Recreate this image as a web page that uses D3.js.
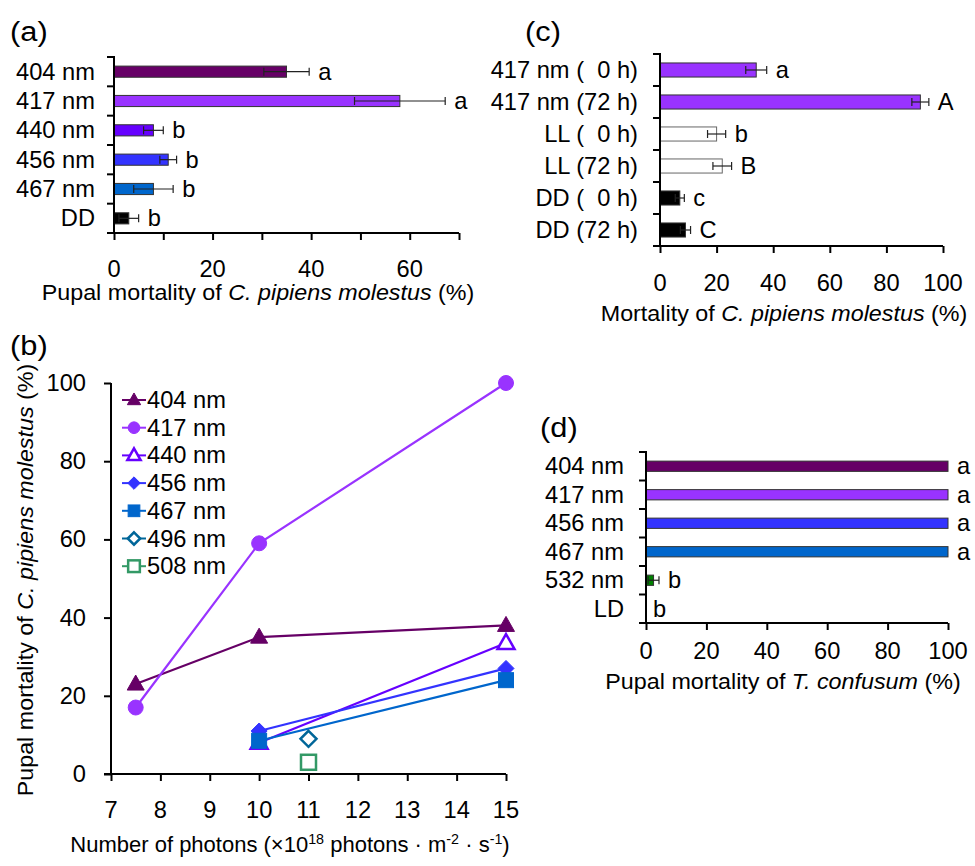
<!DOCTYPE html>
<html><head><meta charset="utf-8">
<script src="https://cdn.jsdelivr.net/npm/d3@7"></script>
<style>body{margin:0;background:#fff}svg{display:block}text{font-family:"Liberation Sans",Arial,sans-serif;fill:#000}</style>
</head><body>
<svg id="fig" width="975" height="866"></svg>
<script>
// ---------- data ----------
const aCats = ["404 nm","417 nm","440 nm","456 nm","467 nm","DD"];
const aVals = [35, 58, 8, 11, 8, 3];
const aErr  = [4.6, 9.2, 2, 1.7, 4, 2];
const aLetters = ["a","a","b","b","b","b"];
const aColors = ["#660066","#9933FF","#6600FF","#3333FF","#0066CC","#000000"];
const aTicks = [0,20,40,60];
const aMinor = [0,10,20,30,40,50,60,70];

const cCats = ["417 nm (  0 h)","417 nm (72 h)","LL (  0 h)","LL (72 h)","DD (  0 h)","DD (72 h)"];
const cVals = [34, 92, 20, 22, 7, 9];
const cErr  = [3.7, 3, 3.2, 3.3, 1.6, 1.8];
const cLetters = ["a","A","b","B","c","C"];
const cColors = ["#9933FF","#9933FF","#FFFFFF","#FFFFFF","#000000","#000000"];
const cTicks = [0,20,40,60,80,100];

const dCats = ["404 nm","417 nm","456 nm","467 nm","532 nm","LD"];
const dVals = [100, 100, 100, 100, 2.5, 0];
const dErr  = [0, 0, 0, 0, 1.8, 0];
const dLetters = ["a","a","a","a","b","b"];
const dColors = ["#660066","#9933FF","#3333FF","#0066CC","#008000","#FFFFFF"];
const dTicks = [0,20,40,60,80,100];

const bNames = ["404 nm","417 nm","440 nm","456 nm","467 nm","496 nm","508 nm"];
const b404X = [7.5,10,15], b404Y = [23,35,38];
const b417X = [7.5,10,15], b417Y = [17,59,100];
const b440X = [10,15],     b440Y = [8,33.5];
const b456X = [10,15],     b456Y = [11,27];
const b467X = [10,15],     b467Y = [8.5,24];
const b496X = [11],        b496Y = [9];
const b508X = [11],        b508Y = [3];
const bColors = ["#660066","#9933FF","#6600FF","#3333FF","#0066CC","#006699","#339966"];
const bShapes = ["tri","circle","triOpen","diamond","square","diamondOpen","squareOpen"];
const bXTicks = [7,8,9,10,11,12,13,14,15];
const bYTicks = [0,20,40,60,80,100];

// ---------- helpers ----------
const svg = d3.select("#fig");
const FS = 23, SX = 1.03, TFS = 22, TSX = 1.06;
function T(g, x, y, str, o = {}) {
  const size = o.size || FS, sx = o.sx || SX, rot = o.rot || 0;
  const t = g.append("text")
    .attr("transform", `translate(${x},${y}) rotate(${rot}) scale(${sx},1)`)
    .attr("font-size", size)
    .attr("text-anchor", o.anchor || "start")
    .style("white-space", "pre");
  if (Array.isArray(str)) {
    str.forEach(p => {
      const s = t.append("tspan").text(p.t);
      if (p.i) s.attr("font-style", "italic");
      if (p.sup) s.attr("font-size", size * 0.65).attr("dy", p.dy);
      else if (p.dy) s.attr("dy", p.dy);
    });
  } else t.text(str);
  return t;
}

function barPanel(o) {
  const g = svg.append("g");
  const x = d3.scaleLinear().domain(o.xDomain).range(o.xRange);
  const y = d3.scaleBand().domain(o.cats).range(o.yRange).paddingInner(0).paddingOuter(0);
  const bh = y.step() * o.barFrac;
  const cy = c => y(c) + y.step() / 2;
  g.selectAll("rect.bar").data(o.cats).join("rect")
    .attr("x", x(0)).attr("y", c => cy(c) - bh / 2)
    .attr("width", (c, i) => x(o.vals[i]) - x(0))
    .attr("height", bh)
    .attr("fill", (c, i) => o.colors[i])
    .attr("stroke", (c, i) => o.vals[i] > 0 ? (o.colors[i] === "#FFFFFF" ? "#666" : "#333") : "none")
    .attr("stroke-width", 1);
  o.cats.forEach((c, i) => {
    if (!o.errs[i]) return;
    const x1 = x(o.vals[i] - o.errs[i]), x2 = x(o.vals[i] + o.errs[i]), yy = cy(c);
    g.append("line").attr("x1", x1).attr("x2", x2).attr("y1", yy).attr("y2", yy).attr("stroke", "#222").attr("stroke-width", 1.2);
    [x1, x2].forEach(xx => g.append("line").attr("x1", xx).attr("x2", xx).attr("y1", yy - 4).attr("y2", yy + 4).attr("stroke", "#222").attr("stroke-width", 1.2));
  });
  o.cats.forEach((c, i) => {
    const xe = o.errs[i] ? x(o.vals[i] + o.errs[i]) + 9 : (o.vals[i] > 0 ? x(o.vals[i]) + 9 : x(0) + 7);
    T(g, xe, cy(c) + 8, o.letters[i]);
  });
  const y0 = o.yRange[0], y1 = o.yRange[1], ax = x(0);
  g.append("line").attr("x1", ax).attr("x2", ax).attr("y1", y0 - 1).attr("y2", y1 + 1).attr("stroke", "#000").attr("stroke-width", 2);
  const bounds = o.cats.map(c => y(c)).concat([y1]);
  bounds.forEach(b => g.append("line").attr("x1", ax - 7).attr("x2", ax).attr("y1", b).attr("y2", b).attr("stroke", "#000").attr("stroke-width", 2));
  o.cats.forEach(c => T(g, o.labelRight, cy(c) + 8, c, { anchor: "end" }));
  const xa = g.append("g").attr("transform", `translate(0,${y1})`)
    .call(d3.axisBottom(x).tickValues(o.minor).tickSize(7).tickFormat(""));
  xa.select(".domain").attr("stroke", "#000").attr("stroke-width", 2).attr("d", `M${ax - 7},0H${x(o.xDomain[1])}`);
  xa.selectAll(".tick line").attr("stroke", "#000").attr("stroke-width", 2);
  o.ticks.forEach(v => T(g, x(v), o.tickBase, String(v), { anchor: "middle" }));
  T(g, o.titleX, o.titleBase, o.title, { size: TFS, sx: TSX, anchor: "middle" });
  T(g, o.tagX, o.tagY, o.tag, { size: 28, sx: 1.1 });
}

barPanel({ cats: aCats, vals: aVals, errs: aErr, letters: aLetters, colors: aColors,
  xDomain: [0, 70], xRange: [114, 459], yRange: [57, 233], barFrac: 0.38,
  ticks: aTicks, minor: aMinor, labelRight: 95, tickBase: 277, titleBase: 300, titleX: 258,
  title: [{ t: "Pupal mortality of " }, { t: "C. pipiens molestus", i: true }, { t: " (%)" }],
  tag: "(a)", tagX: 10, tagY: 41 });

barPanel({ cats: cCats, vals: cVals, errs: cErr, letters: cLetters, colors: cColors,
  xDomain: [0, 100], xRange: [660, 943], yRange: [54, 246], barFrac: 0.44,
  ticks: cTicks, minor: cTicks, labelRight: 638, tickBase: 291, titleBase: 321, titleX: 784,
  title: [{ t: "Mortality of " }, { t: "C. pipiens molestus", i: true }, { t: " (%)" }],
  tag: "(c)", tagX: 525, tagY: 41 });

barPanel({ cats: dCats, vals: dVals, errs: dErr, letters: dLetters, colors: dColors,
  xDomain: [0, 100], xRange: [646, 948], yRange: [452, 623], barFrac: 0.36,
  ticks: dTicks, minor: dTicks, labelRight: 624, tickBase: 659, titleBase: 689, titleX: 783,
  title: [{ t: "Pupal mortality of " }, { t: "T. confusum", i: true }, { t: " (%)" }],
  tag: "(d)", tagX: 540, tagY: 437 });

// ---------- panel (b) ----------
(function () {
  const g = svg.append("g");
  const x = d3.scaleLinear().domain([7, 15]).range([111, 506]);
  const y = d3.scaleLinear().domain([0, 100]).range([774, 383]);
  const xs = [b404X, b417X, b440X, b456X, b467X, b496X, b508X];
  const ys = [b404Y, b417Y, b440Y, b456Y, b467Y, b496Y, b508Y];
  const xa = g.append("g").attr("transform", `translate(0,${y(0)})`)
    .call(d3.axisBottom(x).tickValues(bXTicks).tickSize(7).tickFormat(""));
  xa.select(".domain").attr("stroke", "#000").attr("stroke-width", 2).attr("d", `M${x(7) - 7},0H${x(15)}`);
  xa.selectAll(".tick line").attr("stroke", "#000").attr("stroke-width", 2);
  const ya = g.append("g").attr("transform", `translate(${x(7)},0)`)
    .call(d3.axisLeft(y).tickValues(bYTicks).tickSize(7).tickFormat(""));
  ya.select(".domain").attr("stroke", "#000").attr("stroke-width", 2).attr("d", `M0,${y(0)}V${y(100)}`);
  ya.selectAll(".tick line").attr("stroke", "#000").attr("stroke-width", 2);
  bXTicks.forEach(v => T(g, x(v), 818, String(v), { anchor: "middle" }));
  bYTicks.forEach(v => T(g, 86, y(v) + 8, String(v), { anchor: "end" }));
  T(g, 290, 852, [{ t: "Number of photons (×10" }, { t: "18", sup: true, dy: -8 }, { t: " photons · m", dy: 8 },
    { t: "-2", sup: true, dy: -8 }, { t: " · s", dy: 8 }, { t: "-1", sup: true, dy: -8 }, { t: ")", dy: 8 }],
    { size: TFS, sx: 1.0, anchor: "middle" });
  T(g, 33, 580, [{ t: "Pupal mortality of " }, { t: "C. pipiens molestus", i: true }, { t: " (%)" }],
    { size: TFS, sx: TSX, anchor: "middle", rot: -90 });
  T(g, 10, 355, "(b)", { size: 28, sx: 1.1 });

  function marker(sel, shape, color, s) {
    const open = shape.endsWith("Open");
    let p;
    if (shape.startsWith("tri")) p = sel.append("path").attr("d", `M0,${-9 * s}L${8.5 * s},${6 * s}L${-8.5 * s},${6 * s}Z`);
    else if (shape === "circle") p = sel.append("circle").attr("r", 7.5 * s);
    else if (shape.startsWith("diamond")) p = sel.append("path").attr("d", `M0,${-8 * s}L${8 * s},0L0,${8 * s}L${-8 * s},0Z`);
    else p = sel.append("rect").attr("x", -7.5 * s).attr("y", -7.5 * s).attr("width", 15 * s).attr("height", 15 * s);
    p.attr("fill", open ? "#fff" : color).attr("stroke", color).attr("stroke-width", open ? 2.5 : 1);
  }
  const line = d3.line().x(d => x(d[0])).y(d => y(d[1]));
  bNames.forEach((n, i) => {
    const pts = xs[i].map((v, j) => [v, ys[i][j]]);
    if (pts.length > 1) g.append("path").attr("d", line(pts)).attr("fill", "none").attr("stroke", bColors[i]).attr("stroke-width", 2.2);
    pts.forEach(p => marker(g.append("g").attr("transform", `translate(${x(p[0])},${y(p[1])})`), bShapes[i], bColors[i], 1));
  });
  bNames.forEach((n, i) => {
    const ly = 400 + i * 27.7;
    g.append("line").attr("x1", 122).attr("x2", 146).attr("y1", ly).attr("y2", ly).attr("stroke", bColors[i]).attr("stroke-width", 2);
    marker(g.append("g").attr("transform", `translate(134,${ly})`), bShapes[i], bColors[i], 0.78);
    T(g, 147, ly + 8, n);
  });
})();
</script>
</body></html>
